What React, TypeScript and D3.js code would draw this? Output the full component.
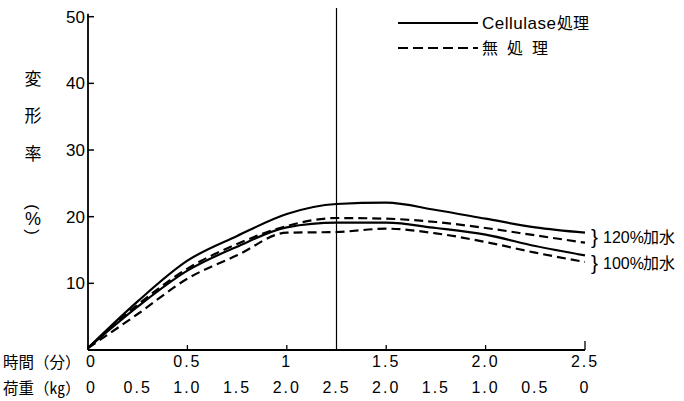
import React from "react";
import * as d3 from "d3";

const times = [0, 0.25, 0.5, 0.75, 1.0, 1.25, 1.5, 1.75, 2.0, 2.25, 2.5];
const cellulase120 = [0.3, 7.3, 13.4, 17.1, 20.4, 21.9, 22.1, 21.0, 19.7, 18.4, 17.6];
const untreated120 = [0.3, 6.8, 12.2, 15.9, 18.6, 19.8, 19.7, 19.2, 18.3, 17.2, 16.1];
const cellulase100 = [0.3, 6.5, 11.9, 15.5, 18.4, 19.1, 19.1, 18.3, 17.3, 15.6, 14.2];
const untreated100 = [0.3, 5.4, 10.7, 14.2, 17.6, 17.7, 18.2, 17.5, 16.2, 14.6, 13.2];

const timeTicks = [0, 0.5, 1, 1.5, 2.0, 2.5];
const timeTickLabels = ["0", "0.5", "1", "1.5", "2.0", "2.5"];
const loadLabels = ["0", "0.5", "1.0", "1.5", "2.0", "2.5", "2.0", "1.5", "1.0", "0.5", "0"];
const yTicks = [10, 20, 30, 40, 50];
const yAxisChars = ["変", "形", "率"];

const series = [
  { values: cellulase120, dashed: false },
  { values: untreated120, dashed: true },
  { values: cellulase100, dashed: false },
  { values: untreated100, dashed: true },
];

const NUM_FONT = "'Liberation Sans Narrow', 'Liberation Sans', Arial, sans-serif";
const CJK_FONT = "'Noto Sans CJK JP', 'Noto Sans', sans-serif";

export default function App() {
  const x = d3.scaleLinear().domain([0, 2.5]).range([88, 585]);
  const y = d3.scaleLinear().domain([0, 50]).range([350, 16.7]);
  const line = d3
    .line<number>()
    .x((_, i) => x(times[i]))
    .y((d) => y(d))
    .curve(d3.curveMonotoneX);

  return (
    <svg
      width={684}
      height={401}
      style={{ position: "absolute", left: 0, top: 0, background: "#fff" }}
    >
      <rect x={0} y={0} width={684} height={401} fill="#fff" />
      {/* axes */}
      <line x1={x(0)} x2={x(0)} y1={y(0)} y2={y(50) - 3} stroke="#000" strokeWidth={1.8} />
      <line x1={x(0)} x2={x(2.5)} y1={y(0)} y2={y(0)} stroke="#000" strokeWidth={1.8} />
      {yTicks.map((t) => (
        <g key={t}>
          <line x1={x(0)} x2={x(0) + 6} y1={y(t)} y2={y(t)} stroke="#000" strokeWidth={1.5} />
          <text
            x={x(0) - 3}
            y={y(t)}
            dy="0.36em"
            textAnchor="end"
            fontFamily={NUM_FONT}
            fontSize={17}
          >
            {t}
          </text>
        </g>
      ))}
      {timeTicks.map((t, i) => (
        <g key={t}>
          <line
            x1={x(t)}
            x2={x(t)}
            y1={y(0)}
            y2={y(0) - (i === timeTicks.length - 1 ? 9 : 5)}
            stroke="#000"
            strokeWidth={1.3}
          />
          <text
            x={i === 0 ? x(t) - 2 : x(t)}
            y={367}
            textAnchor={i === 0 ? "start" : "middle"}
            fontFamily={NUM_FONT}
            fontSize={16}
            letterSpacing={2}
          >
            {timeTickLabels[i]}
          </text>
        </g>
      ))}
      {loadLabels.map((l, i) => (
        <text
          key={i}
          x={i === 0 ? x(0) - 2 : x(i * 0.25)}
          y={393}
          textAnchor={i === 0 ? "start" : "middle"}
          fontFamily={NUM_FONT}
          fontSize={16}
          letterSpacing={2}
        >
          {l}
        </text>
      ))}
      <text x={3} y={368} fontFamily={CJK_FONT} fontSize={15.5}>
        時間（分）
      </text>
      <text x={3} y={394} fontFamily={CJK_FONT} fontSize={15.5}>
        荷重（㎏）
      </text>
      {/* vertical line at 1.25 */}
      <line x1={x(1.25)} x2={x(1.25)} y1={8} y2={y(0)} stroke="#000" strokeWidth={1.2} />
      {/* y axis title */}
      {yAxisChars.map((c, i) => (
        <text
          key={c}
          x={33}
          y={[85, 122, 160][i]}
          textAnchor="middle"
          fontFamily={CJK_FONT}
          fontSize={17}
        >
          {c}
        </text>
      ))}
      <text x={33} y={207} transform="rotate(90 33 207)" textAnchor="middle" dy="0.35em" fontFamily={NUM_FONT} fontSize={17}>
        (
      </text>
      <text x={33} y={219} textAnchor="middle" dy="0.36em" fontFamily={NUM_FONT} fontSize={18}>
        %
      </text>
      <text x={33} y={232} transform="rotate(90 33 232)" textAnchor="middle" dy="0.35em" fontFamily={NUM_FONT} fontSize={17}>
        )
      </text>
      {/* series */}
      {series.map((s, i) => (
        <path
          key={i}
          d={line(s.values) || ""}
          fill="none"
          stroke="#000"
          strokeWidth={2.2}
          strokeDasharray={s.dashed ? "9,5" : undefined}
        />
      ))}
      {/* legend */}
      <line x1={398} x2={478} y1={23} y2={23} stroke="#000" strokeWidth={2.2} />
      <text x={482} y={29} fontFamily={NUM_FONT} fontSize={17} letterSpacing={0.5}>
        Cellulase
      </text>
      <text x={557} y={29} fontFamily={CJK_FONT} fontSize={16}>
        処理
      </text>
      <line x1={398} x2={478} y1={48} y2={48} stroke="#000" strokeWidth={2.2} strokeDasharray="10,5" />
      <text x={482} y={54} fontFamily={CJK_FONT} fontSize={16} letterSpacing={9}>
        無処理
      </text>
      {/* right annotations */}
      <text x={591} y={244} fontFamily={NUM_FONT} fontSize={21}>
        {"}"}
      </text>
      <text x={603} y={243} fontFamily={NUM_FONT} fontSize={16}>
        120%
      </text>
      <text x={643} y={243} fontFamily={CJK_FONT} fontSize={16}>
        加水
      </text>
      <text x={591} y={270} fontFamily={NUM_FONT} fontSize={21}>
        {"}"}
      </text>
      <text x={603} y={269} fontFamily={NUM_FONT} fontSize={16}>
        100%
      </text>
      <text x={643} y={269} fontFamily={CJK_FONT} fontSize={16}>
        加水
      </text>
    </svg>
  );
}
